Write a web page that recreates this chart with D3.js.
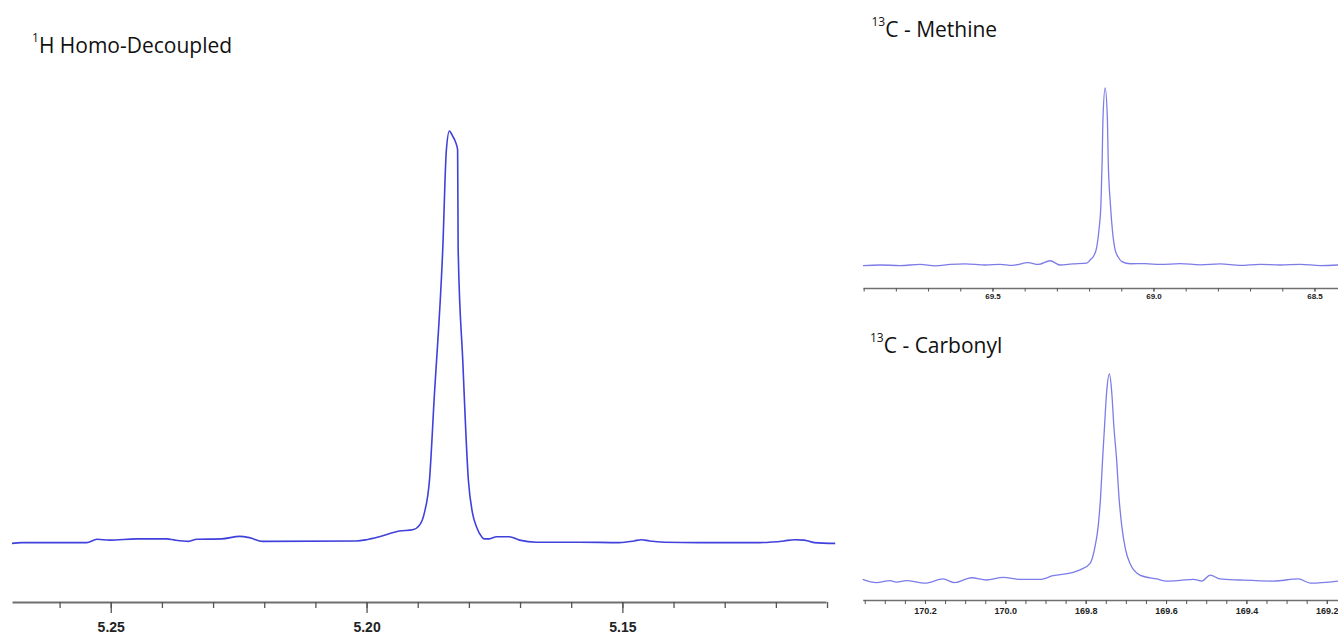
<!DOCTYPE html>
<html>
<head>
<meta charset="utf-8">
<script src="https://cdn.jsdelivr.net/npm/d3@7"></script>
<style>
  body { margin: 0; background: #fff; }
  svg { display: block; }
  .title { font-family: "Open Sans", sans-serif; fill: #111; }
  .tick text { font-family: "Liberation Sans Narrow", "Liberation Sans", sans-serif; font-weight: bold; fill: #222; }
</style>
</head>
<body>
<div id="svg"></div>
<script>
/* 1H homo-decoupled spectrum (ppm, relative intensity). */
const protonPpm = [5.2693, 5.2674, 5.2547, 5.2527, 5.2502, 5.2449, 5.2391, 5.2375, 5.2348, 5.2332,
  5.2283, 5.2248, 5.2229, 5.2203, 5.2020, 5.2000, 5.1975, 5.1936, 5.1910, 5.1896,
  5.1887, 5.1877, 5.1868, 5.1851, 5.1844, 5.1838, 5.1832, 5.1826, 5.1822, 5.1821,
  5.1812, 5.1801, 5.1793, 5.1785, 5.1775, 5.1770, 5.1760, 5.1746, 5.1721, 5.1701,
  5.1668, 5.1584, 5.1506, 5.1477, 5.1463, 5.1447, 5.1418, 5.1350, 5.1232, 5.1184,
  5.1164, 5.1145, 5.1125, 5.1084]
const protonIntensity = [-0.1, 0.1, 0.1, 0.9, 0.7, 1.0, 1.0, 0.7, 0.4, 0.9,
  1.0, 1.6, 1.3, 0.4, 0.5, 0.8, 1.5, 2.9, 3.2, 4.4,
  7.3, 15.3, 34.7, 71.6, 95.4, 100, 98.8, 97.3, 95.4, 71.6,
  44.4, 15.3, 7.3, 3.9, 1.5, 1.0, 1.0, 1.5, 1.5, 0.7,
  0.2, 0.2, 0.1, 0.5, 0.8, 0.5, 0.2, 0.1, 0.1, 0.5,
  0.8, 0.7, 0.1, -0.1]
const protonTicks = [5.26, 5.25, 5.24, 5.23, 5.22, 5.21, 5.20, 5.19, 5.18, 5.17, 5.16, 5.15, 5.14, 5.13, 5.12, 5.11]
const protonLabels = [5.25, 5.20, 5.15]

/* 13C methine spectrum. */
const methinePpm = [69.902, 69.849, 69.787, 69.725, 69.678, 69.631, 69.585, 69.522, 69.476, 69.439,
  69.389, 69.358, 69.321, 69.290, 69.252, 69.207, 69.197, 69.1857, 69.176, 69.1693,
  69.163, 69.1593, 69.157, 69.150, 69.143, 69.1406, 69.134, 69.1276, 69.119, 69.1096,
  69.098, 69.072, 69.026, 68.979, 68.917, 68.855, 68.793, 68.731, 68.669, 68.607,
  68.544, 68.482, 68.426]
const methineIntensity = [-0.3, 0, -0.3, 0.3, -0.5, 0.3, 0.6, 0, 0.4, -0.2,
  1.3, 0.3, 2.4, 0, 0.6, 1.1, 2.8, 5.1, 10.3, 19.8,
  35.0, 59.3, 81.9, 100, 81.9, 59.3, 35.0, 19.8, 8.5, 4.5,
  1.9, 0.7, 0.8, 0.3, 0.8, 0.1, 0.6, -0.2, 0.4, 0,
  0.4, -0.3, 0]
const methineTicks = [69.9, 69.8, 69.7, 69.6, 69.5, 69.4, 69.3, 69.2, 69.1, 69.0, 68.9, 68.8, 68.7, 68.6, 68.5]
const methineLabels = [69.5, 69.0, 68.5]

/* 13C carbonyl spectrum. */
const carbonylPpm = [170.355, 170.321, 170.287, 170.271, 170.246, 170.200, 170.155, 170.126, 170.084, 170.047,
  170.005, 169.964, 169.914, 169.881, 169.831, 169.814, 169.789, 169.778, 169.769, 169.763,
  169.758, 169.753, 169.748, 169.741, 169.735, 169.730, 169.723, 169.717, 169.710, 169.701,
  169.690, 169.665, 169.623, 169.598, 169.565, 169.532, 169.511, 169.490, 169.466, 169.416,
  169.333, 169.270, 169.241, 169.172]
const carbonylIntensity = [0.3, -1.3, -0.3, -1.0, -0.3, -1.5, 0.5, -1.3, 1.1, 0,
  1.3, 0.3, 0.3, 2.1, 3.7, 4.9, 8.1, 15, 25.9, 40,
  58.3, 75, 90.8, 100, 90.8, 75, 58.3, 40, 25.9, 15,
  8.1, 2.4, 0.5, -0.5, -0.2, 0.3, -0.5, 2.4, 0.5, 0,
  -0.5, 0.5, -1.5, -0.5]
const carbonylTicks = d3.range(0, 24).map(i => +(170.35 - i * 0.05).toFixed(2))
const carbonylLabels = [170.2, 170.0, 169.8, 169.6, 169.4, 169.2]

/* Create svg-element. */
const svg = d3.select("#svg")
  .append("svg")
  .attr("width", 1338)
  .attr("height", 635)

/* Define drawPanel. */
const drawPanel = (p) => {
  const x = d3.scaleLinear().domain(p.domain).range(p.xRange)
  const y = d3.scaleLinear().domain([0, 100]).range(p.yRange)

  const line = d3.line()
    .curve(d3.curveMonotoneX)
    .x((d) => x(d[0]))
    .y((d) => y(d[1]))

  svg.append("path")
    .datum(d3.zip(p.ppm, p.intensity))
    .attr("fill", "none")
    .attr("stroke", p.color)
    .attr("stroke-width", p.lineWidth)
    .attr("stroke-linejoin", "round")
    .attr("d", line)

  const minor = svg.append("g")
    .attr("transform", `translate(0,${p.axisY})`)
    .call(d3.axisBottom(x).tickValues(p.ticks).tickSize(p.minorLen).tickSizeOuter(0).tickFormat(""))
  minor.select(".domain").attr("stroke", "#6f6f6f").attr("stroke-width", p.axisWidth)
  minor.selectAll(".tick line").attr("stroke", "#555").attr("stroke-width", p.tickWidth)

  const major = svg.append("g")
    .attr("transform", `translate(0,${p.axisY})`)
    .call(d3.axisBottom(x).tickValues(p.labels).tickSize(p.majorLen).tickPadding(p.pad).tickFormat(d3.format(p.fmt)))
  major.select(".domain").remove()
  major.selectAll(".tick line").attr("stroke", "#555").attr("stroke-width", p.tickWidth)
  major.selectAll(".tick text").attr("font-size", p.fontSize)
}

/* Left panel. */
drawPanel({
  ppm: protonPpm, intensity: protonIntensity, ticks: protonTicks, labels: protonLabels,
  domain: [5.2693, 5.1102], xRange: [12, 826], yRange: [543, 131], axisY: 602,
  color: "#4040dc", lineWidth: 1.6, axisWidth: 2, tickWidth: 1.3,
  minorLen: 6, majorLen: 11, pad: 9, fmt: ".2f", fontSize: 14
})

/* Top right panel. */
drawPanel({
  ppm: methinePpm, intensity: methineIntensity, ticks: methineTicks, labels: methineLabels,
  domain: [69.902, 68.427], xRange: [863, 1338], yRange: [265, 88], axisY: 288,
  color: "#7c7ce8", lineWidth: 1.3, axisWidth: 1.3, tickWidth: 1,
  minorLen: 3.5, majorLen: 3.5, pad: 2, fmt: ".1f", fontSize: 8
})

/* Bottom right panel. */
drawPanel({
  ppm: carbonylPpm, intensity: carbonylIntensity, ticks: carbonylTicks, labels: carbonylLabels,
  domain: [170.355, 169.172], xRange: [862.7, 1338], yRange: [580, 374], axisY: 600,
  color: "#7c7ce8", lineWidth: 1.3, axisWidth: 1.3, tickWidth: 1,
  minorLen: 4, majorLen: 4, pad: 4, fmt: ".1f", fontSize: 9
})

/* Titles. */
const titles = [
  { sup: "1", text: "H Homo-Decoupled", x: 32, y: 53 },
  { sup: "13", text: "C - Methine", x: 871.5, y: 37 },
  { sup: "13", text: "C - Carbonyl", x: 870, y: 353 }
]
titles.forEach((t) => {
  const txt = svg.append("text").attr("class", "title").attr("x", t.x).attr("y", t.y)
  txt.append("tspan").attr("font-size", 12).attr("dy", -11).text(t.sup)
  txt.append("tspan").attr("font-size", 21).attr("dy", 11).text(t.text)
})
</script>
</body>
</html>
